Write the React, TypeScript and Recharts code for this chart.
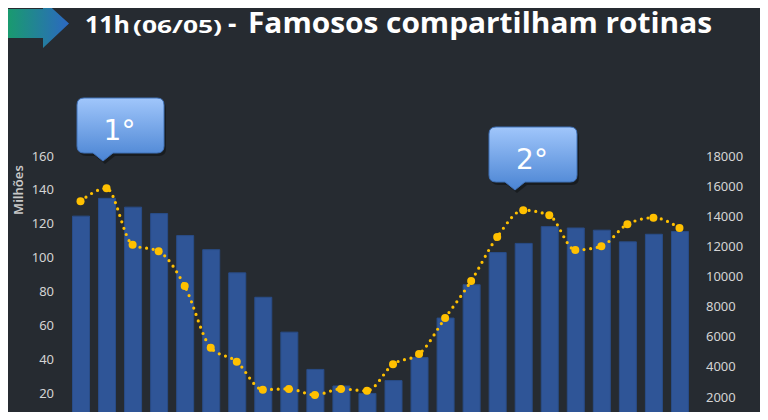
import React from "react"
import { ComposedChart, Bar, Line, XAxis, YAxis } from "recharts"

// hourly slots (x axis is cut off in the source image)
const slots = ["1", "2", "3", "4", "5", "6", "7", "8", "9", "10", "11", "12", "13", "14", "15", "16", "17", "18", "19", "20", "21", "22", "23", "24"]
// left axis, millions
const views = [124.5, 135, 129.8, 126, 113, 104.7, 91, 76.6, 56, 34, 24.2, 19.8, 27.4, 41, 64.3, 84, 103, 108.4, 118.3, 117.5, 116.2, 109.3, 113.8, 115.4]
// right axis
const posts = [15000, 15850, 12100, 11670, 9370, 5270, 4340, 2480, 2530, 2130, 2530, 2400, 4170, 4850, 7240, 9700, 12620, 14400, 14060, 11760, 12000, 13470, 13900, 13220]
const leftTicks = [20, 40, 60, 80, 100, 120, 140, 160]
const rightTicks = [2000, 4000, 6000, 8000, 10000, 12000, 14000, 16000, 18000]

const data = slots.map((s, i) => ({ slot: s, views: views[i], posts: posts[i] }))

const BG = "#262b31"
const tickStyle = { fill: "#d4d4d4", fontSize: 13, fontFamily: "'Noto Sans', sans-serif" }

function Callout({ x, y, w, h, tipX, label, id }: { x: number; y: number; w: number; h: number; tipX: number; label: string; id: string }) {
  const r = 7
  const path = `M${x + r},${y} H${x + w - r} Q${x + w},${y} ${x + w},${y + r} V${y + h - r} Q${x + w},${y + h} ${x + w - r},${y + h} H${tipX + 10} L${tipX},${y + h + 8} L${tipX - 10},${y + h} H${x + r} Q${x},${y + h} ${x},${y + h - r} V${y + r} Q${x},${y} ${x + r},${y} Z`
  return (
    <g>
      <defs>
        <linearGradient id={id} x1="0" y1="0" x2="0" y2="1">
          <stop offset="0%" stopColor="#a0c6fb" />
          <stop offset="100%" stopColor="#4a84d3" />
        </linearGradient>
      </defs>
      <path d={path} fill="#000" opacity={0.35} transform="translate(2,3)" />
      <path d={path} fill={`url(#${id})`} stroke="#4172b8" strokeWidth={1} />
      <text x={x + w / 2 - 1} y={y + h - 13} textAnchor="middle" fill="#fff" fontSize={28} fontFamily="'DejaVu Sans', sans-serif">
        {label}
      </text>
    </g>
  )
}

export default function App() {
  return (
    <div style={{ position: "relative", width: 768, height: 420, margin: -8, overflow: "hidden", background: BG }}>
      <div style={{ position: "absolute", left: 0, top: 0 }}>
        <ComposedChart width={768} height={460} data={data} margin={{ top: 156, right: 0, bottom: 33, left: 0 }}>
          <XAxis dataKey="slot" hide />
          <YAxis yAxisId="left" width={67.5} domain={[0, 160]} ticks={leftTicks} axisLine={false} tickLine={false} tickSize={0} tickMargin={13.5} tick={tickStyle} />
          <YAxis yAxisId="right" orientation="right" width={75.5} domain={[0, 18000]} ticks={rightTicks} axisLine={false} tickLine={false} tickSize={0} tickMargin={13.5} tick={{ ...tickStyle, textAnchor: "start" }} />
          <Bar yAxisId="left" dataKey="views" fill="#2f5597" stroke="#294c87" strokeWidth={1} barSize={17} isAnimationActive={false} />
          <Line
            yAxisId="right"
            type="monotone"
            dataKey="posts"
            stroke="#ffc000"
            strokeWidth={3.2}
            strokeDasharray="0 6.7"
            strokeLinecap="round"
            dot={{ r: 4, fill: "#ffc000", stroke: "none", strokeDasharray: "none" }}
            isAnimationActive={false}
          />
        </ComposedChart>
      </div>

      <div
        style={{
          position: "absolute",
          left: 18,
          top: 190,
          transform: "translate(-50%, -50%) rotate(-90deg)",
          color: "#c8c8c8",
          fontSize: 13,
          fontWeight: 600,
          fontFamily: "'Noto Sans', sans-serif",
          whiteSpace: "nowrap",
        }}
      >
        Milhões
      </div>

      <svg width={768} height={420} style={{ position: "absolute", left: 0, top: 0, pointerEvents: "none" }}>
        <defs>
          <linearGradient id="arrowGrad" x1="0" y1="0" x2="1" y2="0">
            <stop offset="0%" stopColor="#17a164" />
            <stop offset="100%" stopColor="#2c68c2" />
          </linearGradient>
        </defs>
        <path d="M0,9 H43 V0 L69,23.5 L43,48 V38 H0 Z" fill="url(#arrowGrad)" />
        <g fill="#fff" fontFamily="'Open Sans', sans-serif" fontWeight={700}>
          <text x={85} y={33} fontSize={23} textLength={45} lengthAdjust="spacingAndGlyphs">11h</text>
          <text x={133} y={33} fontSize={18} textLength={89} lengthAdjust="spacingAndGlyphs">(06/05)</text>
          <text x={228} y={33} fontSize={26}>-</text>
          <text x={248} y={33} fontSize={29} textLength={464} lengthAdjust="spacingAndGlyphs">Famosos compartilham rotinas</text>
        </g>
        <Callout id="c1" x={77} y={98} w={87} h={55} tipX={103} label="1°" />
        <Callout id="c2" x={489} y={127} w={88} h={55} tipX={515} label="2°" />
      </svg>
    </div>
  )
}
